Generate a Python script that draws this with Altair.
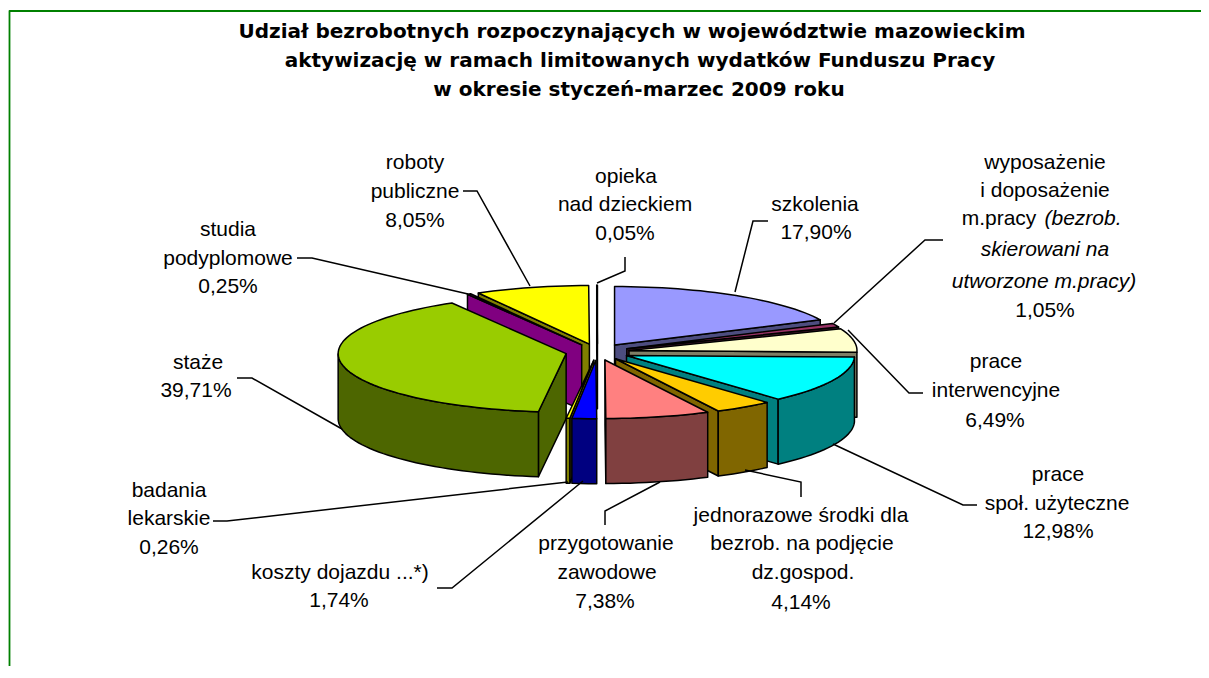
import math
import altair as alt

CATEGORIES = ["szkolenia", "wyposażenie", "prace interwencyjne", "prace społ. użyteczne",
              "jednorazowe środki", "przygotowanie zawodowe", "koszty dojazdu", "badania lekarskie",
              "staże", "studia podyplomowe", "roboty publiczne", "opieka nad dzieckiem"]
VALUES = [17.90, 1.05, 6.49, 12.98, 4.14, 7.38, 1.74, 0.26, 39.71, 0.25, 8.05, 0.05]
TOP_COLORS = ["#9999FF", "#993366", "#FFFFCC", "#00FFFF", "#FFCC00", "#FF8080", "#0000FF", "#FFFF00",
              "#99CC00", "#FF00FF", "#FFFF00", "#00FFFF"]
WALL_COLORS = ["#4D4D80", "#4D1A33", "#808066", "#008080", "#806600", "#804040", "#000080", "#808000",
               "#4D6600", "#800080", "#808000", "#008080"]
DRAW_ORDER = [10, 11, 9, 0, 1, 2, 3, 4, 5, 8, 7, 6]

TITLE_LINES = ["Udział bezrobotnych rozpoczynających w województwie mazowieckim",
               "aktywizację w ramach limitowanych wydatków Funduszu Pracy",
               "w okresie styczeń-marzec 2009 roku"]
TITLE_PLACES = [(632, 32), (640, 61), (639, 90)]
LABEL_LINES = [
    ("roboty", 415, 162, "normal"), ("publiczne", 415, 191, "normal"), ("8,05%", 415, 220, "normal"),
    ("studia", 228, 229, "normal"), ("podyplomowe", 228, 258, "normal"), ("0,25%", 228, 286, "normal"),
    ("opieka", 626, 176, "normal"), ("nad dzieckiem", 625, 204, "normal"), ("0,05%", 625, 233, "normal"),
    ("szkolenia", 815, 204, "normal"), ("17,90%", 816, 232, "normal"),
    ("wyposażenie", 1045, 162, "normal"), ("i doposażenie", 1045, 190, "normal"),
    ("m.pracy", 999, 218, "normal"), ("(bezrob.", 1083, 218, "italic"),
    ("skierowani na", 1045, 249, "italic"), ("utworzone m.pracy)", 1044, 281, "italic"),
    ("1,05%", 1045, 310, "normal"),
    ("prace", 996, 361, "normal"), ("interwencyjne", 996, 390, "normal"), ("6,49%", 995, 420, "normal"),
    ("prace", 1058, 474, "normal"), ("społ. użyteczne", 1057, 503, "normal"), ("12,98%", 1058, 531, "normal"),
    ("jednorazowe środki dla", 801, 515, "normal"), ("bezrob. na podjęcie", 802, 543, "normal"),
    ("dz.gospod.", 803, 572, "normal"), ("4,14%", 801, 602, "normal"),
    ("przygotowanie", 606, 543, "normal"), ("zawodowe", 607, 572, "normal"), ("7,38%", 605, 601, "normal"),
    ("koszty dojazdu ...*)", 340, 572, "normal"), ("1,74%", 339, 600, "normal"),
    ("badania", 169, 490, "normal"), ("lekarskie", 169, 518, "normal"), ("0,26%", 169, 547, "normal"),
    ("staże", 198, 362, "normal"), ("39,71%", 196, 390, "normal"),
]
LEADERS = [
    [(463, 191), (477, 191), (530, 286)],
    [(297, 258), (312, 258), (468, 294)],
    [(237, 378), (252, 378), (342, 429)],
    [(213, 521), (227, 521), (568, 482)],
    [(437, 588), (452, 588), (583, 481)],
    [(605, 525), (605, 511), (660, 482)],
    [(801, 497), (801, 482), (745, 470)],
    [(977, 505), (963, 505), (833, 444)],
    [(923, 393), (909, 393), (848, 330)],
    [(943, 240), (925, 240), (834, 323)],
    [(768, 221), (753, 221), (735, 292)],
    [(625, 257), (625, 271), (597, 283)],
]

# page coordinates -> chart coordinates
OFF = 8
W, H = 1193, 658
CX, CY, EXPLODE, RX, RY, DEPTH = 597.5, 352, 32, 228, 58.5, 65


def p(x, y):
    return [round(x - OFF, 2), round(y - OFF, 2)]


def feature(coords, fill, stroke="#000000", sw=1.5, kind="Polygon"):
    geom = [coords + [coords[0]]] if kind == "Polygon" else coords
    return {"type": "Feature",
            "geometry": {"type": kind, "coordinates": geom},
            "properties": {"fill": fill, "stroke": stroke, "sw": sw}}


def slice_faces(i):
    start = sum(VALUES[:i]) / sum(VALUES) * 2 * math.pi
    end = sum(VALUES[:i + 1]) / sum(VALUES) * 2 * math.pi
    mid = (start + end) / 2
    ax = CX + EXPLODE * math.sin(mid)
    ay = CY - EXPLODE * math.cos(mid) * RY / RX

    def rim(t, dz=0.0):
        return (ax + RX * math.sin(t), ay - RY * math.cos(t) + dz)

    n = max(2, int((end - start) / math.radians(2)))
    ts = [start + (end - start) * k / n for k in range(n + 1)]
    faces = []
    # radial faces that look towards the viewer
    if math.sin(start) < 0:
        a, b = rim(start), rim(start, DEPTH)
        faces.append(feature([p(ax, ay), p(*a), p(*b), p(ax, ay + DEPTH)], WALL_COLORS[i]))
    if math.sin(end) > 0:
        a, b = rim(end), rim(end, DEPTH)
        faces.append(feature([p(ax, ay), p(*a), p(*b), p(ax, ay + DEPTH)], WALL_COLORS[i]))
    # outer wall, front half only
    front = [t for t in ts if math.cos(t) <= 0]
    if len(front) >= 2:
        ring = [p(*rim(t)) for t in front] + [p(*rim(t, DEPTH)) for t in reversed(front)]
        faces.append(feature(ring, WALL_COLORS[i]))
    # top
    faces.append(feature([p(ax, ay)] + [p(*rim(t)) for t in ts], TOP_COLORS[i]))
    return faces


features = [feature([[0, 0], [W, 0], [W, H], [0, H]], "#FFFFFF", "#FFFFFF", 0)]
features.append(feature([p(9.5, 8 + H), p(9.5, 11), p(8 + W, 11)], "#FFFFFF00", "#008000", 1.8, "LineString"))
for idx in DRAW_ORDER:
    features.extend(slice_faces(idx))

pie = alt.Chart(alt.Data(values={"type": "FeatureCollection", "features": features},
                         format=alt.DataFormat(type="json", property="features"))).mark_geoshape(
    strokeJoin="round"
).encode(
    fill=alt.Color("properties.fill:N", scale=None),
    stroke=alt.Stroke("properties.stroke:N", scale=None),
    strokeWidth=alt.StrokeWidth("properties.sw:Q", scale=None),
).project(type="identity", reflectY=False)

x_scale = alt.Scale(domain=[OFF, OFF + W], range=[0, W])
y_scale = alt.Scale(domain=[OFF, OFF + H], range=[0, H])
X = lambda f: alt.X(f, type="quantitative", scale=x_scale, axis=None)
Y = lambda f: alt.Y(f, type="quantitative", scale=y_scale, axis=None)

leader_rows = [{"lead": i, "o": j, "x": x, "y": y}
               for i, pts in enumerate(LEADERS) for j, (x, y) in enumerate(pts)]
leaders = alt.Chart(alt.Data(values=leader_rows)).mark_line(color="#000000", strokeWidth=1.5).encode(
    x=X("x"), y=Y("y"), detail="lead:N", order="o:Q")


def label_layer(style):
    rows = [{"t": t, "x": x, "y": y} for t, x, y, s in LABEL_LINES if s == style]
    return alt.Chart(alt.Data(values=rows)).mark_text(
        font="Liberation Sans", fontSize=21, fontStyle=style, color="#000000",
        baseline="middle", align="center", dy=1
    ).encode(x=X("x"), y=Y("y"), text="t:N")


title_rows = [{"t": t, "x": x, "y": y} for t, (x, y) in zip(TITLE_LINES, TITLE_PLACES)]
title = alt.Chart(alt.Data(values=title_rows)).mark_text(
    font="DejaVu Sans", fontSize=20, fontWeight="bold", color="#000000", baseline="middle", align="center"
).encode(x=X("x"), y=Y("y"), text="t:N")

chart = alt.layer(pie, leaders, label_layer("normal"), label_layer("italic"), title).properties(
    width=W, height=H, padding=0, autosize=alt.AutoSizeParams(type="none")
).configure_view(stroke=None).configure(background="#FFFFFF")

chart.save("out.html", embed_options={"renderer": "svg", "actions": False})
